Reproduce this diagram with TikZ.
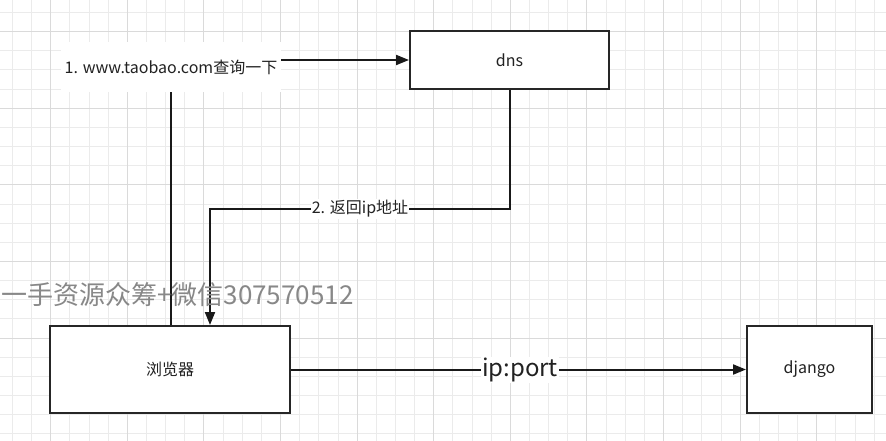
\documentclass[tikz,border=0pt]{standalone}
\usepackage{fontspec}
\setmainfont{Noto Sans CJK SC}
\usetikzlibrary{arrows.meta,calc}
\definecolor{gridminor}{HTML}{EBEBEB}
\definecolor{gridmajor}{HTML}{DADADA}
\definecolor{wm}{HTML}{888888}
\definecolor{txt}{HTML}{222222}
\tikzset{
  box/.style={draw=black!85, line width=2pt, fill=white, inner sep=0pt, text=txt,
    font=\fontsize{16}{18}\selectfont},
  conn/.style={draw=black!90, line width=2pt, -{Triangle[length=13pt,width=10pt]}},
  lbl/.style={fill=white, text=txt, font=\fontsize{16}{18}\selectfont, inner sep=1pt},
  minorline/.style={draw=gridminor, line width=0.9pt},
  majorline/.style={draw=gridmajor, line width=1pt},
}
\begin{document}
\begin{tikzpicture}[x=1pt,y=-1pt]
\useasboundingbox (0,0) rectangle (886,441);
\fill[white] (0,0) rectangle (886,441);
% grid
\foreach \i in {0,...,46} {
  \draw[minorline] ({-6.75+19.15*\i},0) -- ({-6.75+19.15*\i},441);
}
\foreach \i in {0,...,23} {
  \draw[minorline] (0,{-6.65+19.15*\i}) -- (886,{-6.65+19.15*\i});
}
\foreach \i in {0,...,11} {
  \draw[majorline] ({-25.9+76.6*\i},0) -- ({-25.9+76.6*\i},441);
}
\foreach \i in {0,...,5} {
  \draw[majorline] (0,{-44.9+76.6*\i}) -- (886,{-44.9+76.6*\i});
}
% nodes
\node[box, minimum width=199pt, minimum height=58pt] (dns) at (509.5,60) {dns};
\node[box, minimum width=240pt, minimum height=87pt] (browser) at (170,369.5) {浏览器};
\node[box, minimum width=125pt, minimum height=87pt] (django) at (809.5,369.5) {django};
% connectors
\draw[conn] ($(browser.north)+(1,0)$) |- (dns.west);
\node[lbl, minimum width=220pt, minimum height=50pt] (l1) at (171,67) {1. www.taobao.com查询一下};
\coordinate (c2a) at (509.5,209);
\coordinate (c2b) at (210,209);
\draw[conn] (dns.south) -- (c2a) -- (c2b) -- (c2b |- browser.north);
\node[lbl] (l2) at (360,209) {2. 返回ip地址};
\draw[conn] (browser.east) -- (django.west);
\node[lbl, font=\fontsize{24}{26}\selectfont, inner sep=1pt] (l3) at (520,370) {ip:port};
% watermark
\node[anchor=west, text=wm, inner sep=0pt, font=\fontsize{26}{28}\selectfont] (wmk) at (1,295) {一手资源众筹+微信307570512};
\end{tikzpicture}
\end{document}
